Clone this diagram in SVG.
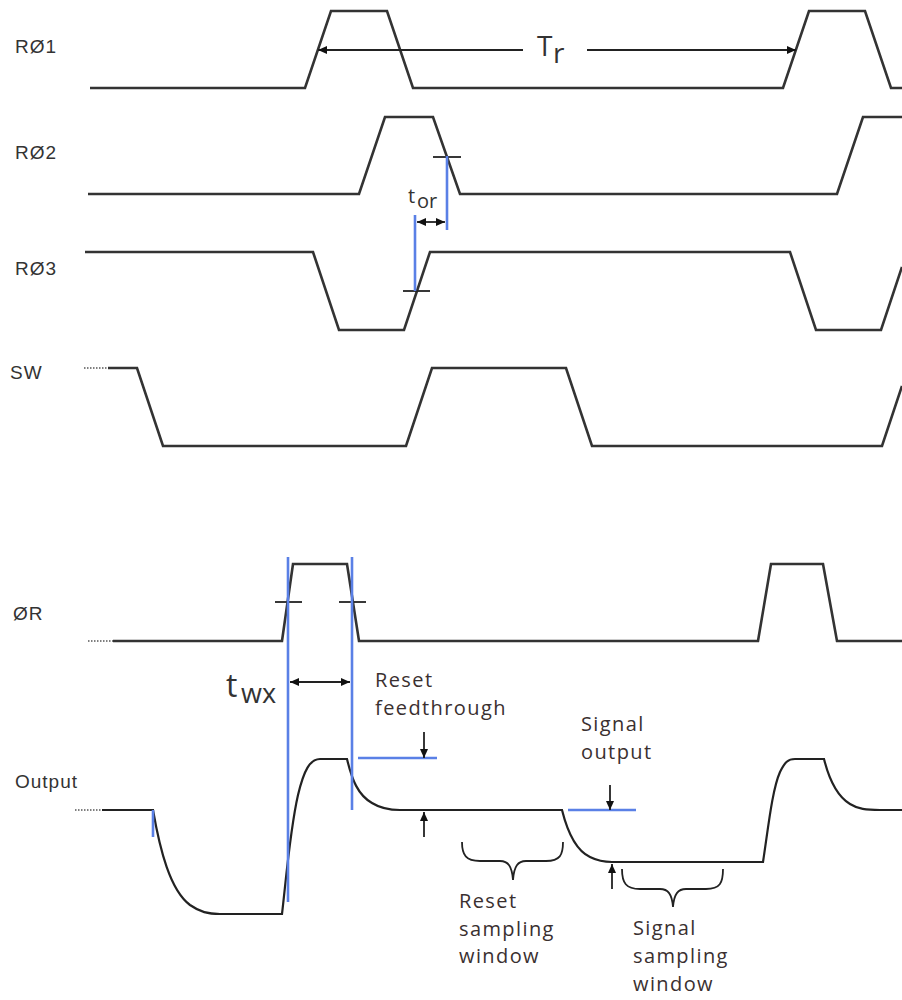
<svg xmlns="http://www.w3.org/2000/svg" width="902" height="1000" viewBox="0 0 902 1000">
<style>
.w{fill:none;stroke:#333;stroke-width:2.6;stroke-linejoin:miter}
.wc{fill:none;stroke:#222;stroke-width:2.2}
.dot{fill:none;stroke:#555;stroke-width:1.5;stroke-dasharray:1.5 1.5}
.b{fill:none;stroke:#5a80e6;stroke-width:2.6}
.k{fill:none;stroke:#222;stroke-width:1.8}
.lbl{font-family:"Liberation Sans",Arial,sans-serif;font-size:19px;fill:#333;letter-spacing:1px}
.txt{font-family:"Open Sans",sans-serif;font-size:20px;fill:#3a3030;letter-spacing:1.4px}
.sym{font-family:"Open Sans",sans-serif;fill:#333}
</style>
<defs>
<marker id="ah" markerUnits="userSpaceOnUse" markerWidth="9" markerHeight="8" refX="9" refY="4" orient="auto-start-reverse">
<path d="M0,0 L9,4 L0,8 z" fill="#111"/>
</marker>
</defs>
<rect width="902" height="1000" fill="#fff"/>

<g id="r1">
<text class="lbl" x="15" y="53">RØ1</text>
<path class="w" d="M90,88 H305 L331,11 H387 L413,88 H783 L809,11 H865 L891,88 H902"/>
</g>
<g id="r2">
<text class="lbl" x="15" y="159">RØ2</text>
<path class="w" d="M88,194 H359 L385,117 H433 L460,194 H837 L863,117 H902"/>
</g>
<g id="r3">
<text class="lbl" x="15" y="275">RØ3</text>
<path class="w" d="M85,252 H313 L339,330 H404 L430,252 H790 L816,330 H881 L902,267"/>
</g>
<g id="sw">
<text class="lbl" x="10" y="379">SW</text>
<path class="dot" d="M84,368 H108"/>
<path class="w" d="M108,368 H137 L163,446 H406 L432,368 H566 L592,446 H882 L902,386"/>
</g>
<g id="phir">
<text class="lbl" x="13" y="620">ØR</text>
<path class="dot" d="M88,641 H113"/>
<path class="w" d="M113,641 H282 L293,564 H347 L359,641 H758 L771,564 H823 L837,641 H902"/>
</g>
<g id="output">
<text class="lbl" x="15" y="788">Output</text>
<path class="dot" d="M75,810 H102"/>
<path class="wc" d="M102,810 H153 C160,850 170,890 190,905 C200,912 208,914 220,914 H282 C286,880 290,830 298,795 C304,770 310,759 320,759 H347 C352,780 358,795 372,803 C380,808 388,810 400,810 H562 C567,830 575,850 590,857 C598,861 604,862 612,862 H763 C768,830 772,790 780,772 C785,762 788,759 795,759 H824 C828,775 835,795 850,804 C858,809 866,810 880,810 H902"/>
</g>

<g id="connectors">
<path class="k" d="M523,50 H318" marker-end="url(#ah)"/>
<path class="k" d="M587,50 H796" marker-end="url(#ah)"/>
<text class="sym" x="537" y="56" font-size="28">T</text>
<text class="sym" x="553" y="63" font-size="28">r</text>
<path class="k" d="M433,157 H461"/>
<path class="k" d="M403,291 H430"/>
<path class="b" d="M447,156 V230"/>
<path class="b" d="M415,215 V291"/>
<path class="k" d="M417,222 H445" marker-start="url(#ah)" marker-end="url(#ah)" stroke-width="1.5"/>
<text class="sym" x="408" y="203" font-size="20">t</text>
<text class="sym" x="417" y="208" font-size="20">or</text>
<path class="k" d="M275,602 H302"/>
<path class="k" d="M339,602 H366"/>
<path class="b" d="M288,557 V902"/>
<path class="b" d="M352,557 V810"/>
<path class="k" d="M290,682 H350" marker-start="url(#ah)" marker-end="url(#ah)"/>
<text class="sym" x="226" y="697" font-size="32">t</text>
<text class="sym" x="241" y="703" font-size="27">wx</text>
<path class="b" d="M153,810 V837"/>
<path class="b" d="M358,758 H437"/>
<path class="k" d="M424,732 V758" marker-end="url(#ah)"/>
<path class="k" d="M424,837 V812" marker-end="url(#ah)"/>
<path class="b" d="M568,810 H636"/>
<path class="k" d="M610,785 V810" marker-end="url(#ah)"/>
<path class="k" d="M612,889 V864" marker-end="url(#ah)"/>
<path class="k" d="M462,842 C462,855 466,861 480,861 H500 C508,861 512,866 513,880 C514,866 518,861 526,861 H546 C560,861 563,855 563,842"/>
<path class="k" d="M622,869 C622,883 626,889 640,889 H660 C668,889 672,894 673,907 C674,894 678,889 686,889 H706 C720,889 723,883 723,869"/>
</g>

<g id="labels">
<text class="txt" x="375" y="687">Reset</text>
<text class="txt" x="375" y="715">feedthrough</text>
<text class="txt" x="581" y="731">Signal</text>
<text class="txt" x="581" y="759">output</text>
<text class="txt" x="459" y="908">Reset</text>
<text class="txt" x="459" y="936">sampling</text>
<text class="txt" x="459" y="963">window</text>
<text class="txt" x="633" y="935">Signal</text>
<text class="txt" x="633" y="963">sampling</text>
<text class="txt" x="633" y="991">window</text>
</g>
</svg>
